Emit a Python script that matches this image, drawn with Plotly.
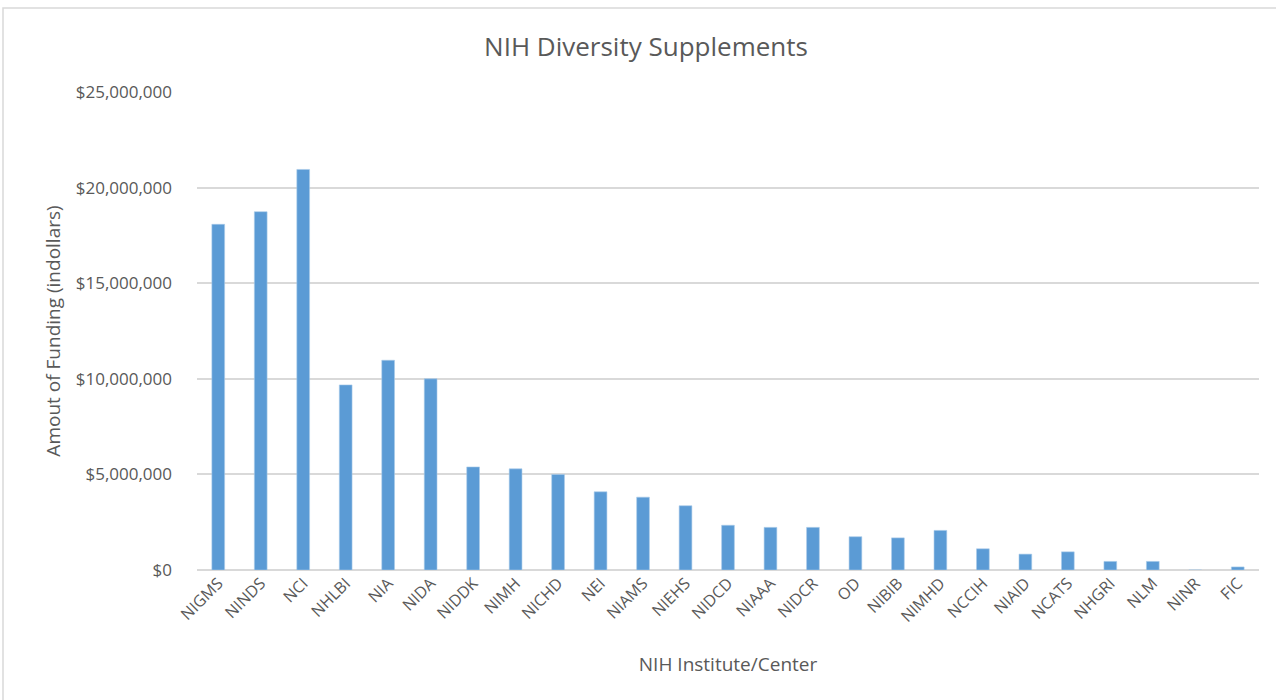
import plotly.graph_objects as go

institutes = ["NIGMS", "NINDS", "NCI", "NHLBI", "NIA", "NIDA", "NIDDK", "NIMH", "NICHD",
              "NEI", "NIAMS", "NIEHS", "NIDCD", "NIAAA", "NIDCR", "OD", "NIBIB", "NIMHD",
              "NCCIH", "NIAID", "NCATS", "NHGRI", "NLM", "NINR", "FIC"]
funding = [18080000, 18740000, 20950000, 9680000, 10970000, 10000000, 5390000, 5290000,
           5000000, 4090000, 3810000, 3360000, 2340000, 2230000, 2230000, 1740000, 1680000,
           2070000, 1110000, 830000, 950000, 450000, 450000, 0, 160000]
y_ticks = [0, 5000000, 10000000, 15000000, 20000000, 25000000]
y_tick_labels = ["$0", "$5,000,000", "$10,000,000", "$15,000,000", "$20,000,000", "$25,000,000"]

FONT = "Open Sans"
GRAY = "#595959"

L, R, T, B = 197, 17, 92, 130
PW = 1276 - L - R
PH = 700 - T - B

fig = go.Figure()
fig.add_trace(go.Bar(
    x=institutes, y=funding,
    marker=dict(color="#5B9BD5", line=dict(color="#A9CBEA", width=0.6)),
    width=0.3,
))

fig.update_layout(
    width=1276, height=700,
    margin=dict(l=L, r=R, t=T, b=B),
    paper_bgcolor="white", plot_bgcolor="white",
    showlegend=False,
    title=dict(text="NIH Diversity Supplements", x=646 / 1276, xanchor="center",
               y=1 - 47 / 700, yanchor="middle",
               font=dict(family=FONT, size=26, color=GRAY)),
    font=dict(family=FONT, color=GRAY),
)
fig.update_xaxes(
    tickangle=-45, tickfont=dict(size=16, color=GRAY, family=FONT),
    title=dict(text="NIH Institute/Center", font=dict(size=19, color=GRAY, family=FONT), standoff=32),
    showgrid=False, showline=False, ticks="",
)
fig.update_yaxes(
    range=[0, 25000000], tickvals=y_ticks, ticktext=y_tick_labels,
    tickfont=dict(size=17, color=GRAY, family=FONT),
    title=dict(text="Amout of Funding (indollars)", font=dict(size=19, color=GRAY, family=FONT), standoff=10),
    showgrid=True, gridcolor="#D9D9D9", gridwidth=1.5,
    zeroline=True, zerolinecolor="#D9D9D9", zerolinewidth=1.5,
    ticks="", ticklabelstandoff=24,
)
fig.add_shape(type="rect", xref="paper", yref="paper",
              x0=(3 - L) / PW, x1=(1290 - L) / PW,
              y0=(T + PH - 710) / PH, y1=(T + PH - 8) / PH,
              line=dict(color="#D9D9D9", width=1.5), fillcolor="rgba(0,0,0,0)", layer="below")

fig.write_html("out.html", config={"displayModeBar": False},
               post_script="document.body.style.margin='0';document.body.style.overflow='hidden';")
